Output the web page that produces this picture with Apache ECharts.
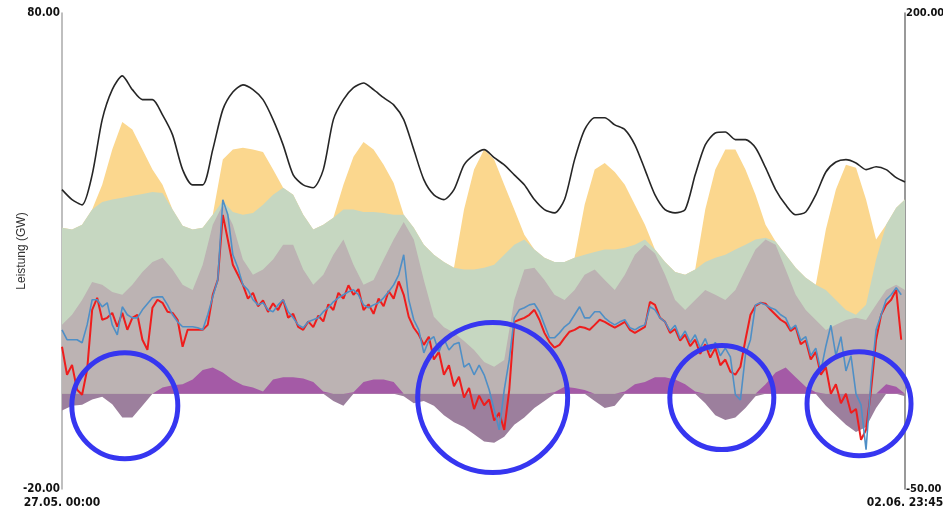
<!DOCTYPE html>
<html>
<head>
<meta charset="utf-8">
<script src="https://cdn.jsdelivr.net/npm/echarts@6/dist/echarts.min.js"></script>
<style>
  html, body { margin: 0; padding: 0; background: #fff; }
  #chart { width: 943px; height: 512px; }
</style>
</head>
<body>
<div id="chart"></div>
<script>
// x = hours since 27.05. 00:00, areas and load sampled every 2 h, prices hourly
const X_MAX = 167.75
const xLabels = ['27.05. 00:00', '02.06. 23:45']

// GW, upper edge of each coloured layer (left axis)
const solarTop = [
  34.9, 34.5, 35.5, 38.7, 43.9, 51.3, 57.1, 55.5, 51.3, 47.1, 43.9, 38.7,
  35.3, 34.5, 34.9, 37.6, 49.2, 51.3, 51.7, 51.3, 50.8, 47.1, 43.3, 41.8,
  37.6, 34.5, 35.5, 37.0, 43.9, 49.8, 52.9, 51.3, 48.1, 44.3, 37.6, 34.9,
  31.3, 29.2, 27.7, 26.5, 38.7, 47.1, 51.3, 49.2, 43.9, 38.7, 33.4, 30.3,
  28.6, 27.7, 27.7, 28.6, 39.7, 47.1, 48.5, 46.6, 43.9, 39.7, 35.5, 30.3,
  27.7, 25.6, 25.0, 26.1, 38.7, 47.1, 51.3, 51.3, 47.1, 41.8, 35.5, 32.0,
  29.2, 26.5, 24.4, 22.9, 34.5, 42.9, 48.1, 47.5, 40.8, 32.4, 35.5, 39.1, 40.8
]
const windTop = [
  34.9, 34.5, 35.5, 38.7, 40.3, 40.8, 41.2, 41.6, 42.0, 42.4, 42.2, 38.7,
  35.3, 34.5, 34.9, 37.6, 40.5, 38.2, 37.6, 38.0, 39.7, 41.8, 43.3, 41.8,
  37.6, 34.5, 35.5, 37.0, 38.7, 38.7, 38.2, 38.2, 38.0, 37.6, 37.6, 34.9,
  31.3, 29.2, 27.7, 26.5, 26.1, 26.1, 26.5, 27.1, 29.2, 31.3, 32.4, 30.3,
  28.6, 27.7, 27.7, 28.6, 29.2, 29.8, 30.3, 30.3, 30.7, 31.3, 32.4, 30.3,
  27.7, 25.6, 25.0, 26.1, 27.7, 28.6, 29.2, 30.3, 31.3, 32.4, 32.8, 32.0,
  29.2, 26.5, 24.4, 22.9, 21.8, 19.7, 17.6, 16.6, 18.7, 28.2, 35.5, 39.1, 40.8
]
const otherTop = [
  14.5, 16.6, 19.7, 23.5, 22.9, 21.4, 20.8, 22.9, 25.6, 27.7, 28.6, 26.1,
  22.9, 21.8, 27.1, 35.5, 39.7, 35.5, 28.2, 25.0, 26.1, 28.2, 31.3, 31.3,
  26.1, 22.9, 25.0, 29.2, 32.4, 27.1, 22.9, 23.9, 28.2, 32.4, 36.1, 32.4,
  23.9, 16.2, 14.0, 12.8, 11.1, 9.2, 6.7, 5.7, 7.1, 19.7, 26.1, 26.5,
  23.9, 20.8, 19.7, 21.8, 25.0, 26.1, 23.9, 21.8, 25.0, 29.2, 31.3, 29.5,
  25.0, 19.7, 17.6, 19.7, 21.8, 20.8, 19.7, 21.8, 26.1, 30.3, 32.4, 31.3,
  26.1, 20.8, 17.6, 15.5, 13.4, 14.5, 15.5, 16.0, 15.5, 18.7, 21.8, 22.9, 21.8
]
// net import (+) / export (-)
const netImport = [
  -3.5, -2.5, -2.3, -1.2, -0.6, -2.2, -5.0, -5.0, -2.5, 0.0, 1.3, 1.8,
  2.0, 3.0, 5.0, 5.5, 4.5, 2.9, 1.8, 1.3, 0.5, 3.0, 3.5, 3.5,
  3.2, 2.5, 0.5, -1.5, -2.5, 0.3, 2.5, 3.0, 3.0, 2.5, -0.5, -2.0,
  -1.5, -2.5, -4.5, -6.0, -7.0, -8.5, -10.0, -10.3, -9.0, -6.5, -5.0, -3.0,
  -1.5, 0.3, 1.5, 1.2, 0.8, -1.5, -3.0, -2.5, 0.5, 2.0, 2.5, 3.5,
  3.5, 3.0, 2.0, 0.5, -2.0, -4.5, -5.5, -5.0, -3.0, -0.5, 2.0, 4.5,
  5.5, 3.5, 1.5, 0.3, -2.5, -4.5, -6.5, -8.0, -7.0, -3.0, 2.0, 1.5, -0.5
]
// total load, GW
const load = [
  42.9, 40.8, 39.7, 46.0, 57.6, 63.9, 66.8, 63.9, 61.8, 61.8, 58.6, 54.4,
  47.1, 43.9, 43.9, 51.3, 59.7, 63.4, 64.9, 63.9, 61.8, 57.6, 52.3, 46.0,
  43.9, 43.3, 47.1, 57.6, 61.8, 64.3, 65.3, 63.9, 62.2, 60.7, 57.6, 51.3,
  45.0, 41.8, 40.8, 42.9, 48.1, 50.2, 51.3, 49.6, 48.1, 46.0, 43.9, 40.8,
  38.7, 38.0, 40.8, 49.2, 55.5, 58.0, 58.0, 56.5, 55.5, 52.3, 47.1, 41.8,
  38.7, 38.0, 38.7, 46.0, 52.3, 54.8, 55.0, 53.4, 53.4, 51.7, 47.5, 42.9,
  39.7, 37.6, 38.2, 41.8, 46.6, 48.7, 49.2, 48.5, 47.1, 47.7, 47.1, 45.4, 44.5
]

// prices, EUR/MWh (right axis), hourly
const priceRed = [
  24.7, 10.0, 15.2, 2.1, -0.5, 12.6, 44.1, 50.4, 38.9, 39.9, 42.5, 35.2,
  42.5, 33.6, 39.9, 41.5, 28.4, 23.1, 45.2, 49.4, 47.8, 43.1, 42.5, 38.9,
  24.7, 33.6, 33.6, 33.6, 33.6, 36.2, 52.0, 59.9, 94.0, 80.9, 67.8, 62.5,
  57.2, 50.0, 53.0, 46.0, 49.0, 43.0, 47.5, 44.0, 49.4, 40.0, 42.0, 35.2,
  33.6, 38.0, 35.0, 41.0, 38.0, 47.0, 44.0, 53.0, 50.0, 57.0, 52.0, 55.0,
  44.0, 47.0, 42.0, 50.0, 46.0, 54.0, 50.0, 59.0, 52.0, 40.4, 34.7, 31.0,
  25.7, 30.0, 18.0, 22.0, 10.0, 15.0, 4.0, 9.0, -2.0, 3.0, -8.0, -1.0,
  -6.0, -3.0, -14.0, -10.0, -19.0, 2.1, 37.8, 38.9, 39.9, 41.5, 44.1, 38.9,
  32.0, 27.3, 24.2, 25.7, 29.4, 32.6, 33.6, 35.2, 34.7, 33.6, 36.2, 38.9,
  37.8, 36.2, 34.7, 36.2, 37.8, 33.6, 32.0, 33.6, 35.2, 48.3, 46.7, 39.9,
  37.8, 32.0, 34.0, 28.0, 31.0, 25.0, 28.4, 21.0, 26.0, 19.0, 24.0, 15.0,
  18.0, 11.6, 10.0, 14.2, 28.4, 41.5, 46.2, 47.8, 47.3, 44.1, 41.5, 38.9,
  37.3, 33.0, 35.0, 26.0, 28.0, 18.0, 22.0, 10.0, 14.0, 0.0, 5.0, -5.0,
  0.0, -10.0, -8.0, -24.2, -18.9, 2.1, 28.4, 41.5, 46.7, 49.4, 54.6, 28.4
]
const priceBlue = [
  33.6, 28.4, 28.4, 28.4, 26.8, 36.2, 49.4, 49.4, 45.7, 47.8, 36.2, 31.0,
  45.7, 41.5, 39.9, 39.9, 44.1, 47.3, 50.4, 50.9, 50.9, 46.7, 41.5, 37.8,
  35.2, 35.2, 35.2, 34.7, 33.6, 41.5, 50.9, 59.9, 101.9, 94.0, 73.0, 66.2,
  57.2, 54.6, 49.4, 46.7, 47.8, 44.1, 43.1, 46.7, 49.4, 43.1, 39.9, 36.2,
  34.7, 37.8, 38.9, 39.9, 43.1, 45.2, 48.3, 50.4, 52.0, 53.6, 54.6, 52.0,
  46.7, 45.2, 46.7, 47.8, 50.4, 53.6, 57.2, 62.5, 73.0, 49.4, 38.9, 33.6,
  21.5, 28.0, 30.0, 22.0, 29.0, 23.0, 26.0, 27.0, 14.0, 16.0, 10.0, 15.0,
  10.0, 2.1, -8.4, -18.9, 2.1, 17.9, 39.9, 44.1, 45.2, 46.7, 47.3, 43.1,
  36.2, 29.4, 29.4, 32.0, 35.2, 37.3, 41.5, 45.7, 39.9, 39.9, 43.1, 43.1,
  39.9, 37.8, 36.2, 37.8, 38.9, 34.7, 33.6, 35.2, 36.2, 45.7, 44.1, 39.9,
  37.8, 33.0, 36.0, 29.0, 33.0, 27.0, 31.0, 24.0, 29.0, 22.0, 27.0, 20.0,
  24.0, 19.4, -0.5, -3.2, 20.5, 28.4, 46.7, 47.8, 46.7, 45.2, 44.1, 41.5,
  39.9, 34.0, 36.0, 28.0, 30.0, 20.0, 24.0, 12.0, 25.0, 36.0, 20.0, 30.0,
  12.0, 20.0, 0.0, -5.8, -29.4, 7.4, 33.6, 41.5, 49.4, 52.0, 55.7, 52.0
]

// highlighted export periods: [hour, GW, radius px]
const circles = [
  [12.5, -2.5, 53],
  [85.7, -0.8, 75],
  [131.3, -0.8, 52],
  [158.6, -2.1, 52]
]

const hours2 = solarTop.map((_, i) => (i === solarTop.length - 1 ? X_MAX : i * 2))
const pairs = (vals, xs) => vals.map((v, i) => [xs[i], v])
const hours1 = priceRed.map((_, i) => i)

const LABEL_FONT = "'Liberation Sans Narrow', 'Arial Narrow', 'DejaVu Sans Condensed', sans-serif"

function area(name, vals, color, z) {
  return {
    name, type: 'line', data: pairs(vals, hours2), yAxisIndex: 0,
    showSymbol: false, z,
    lineStyle: { width: 0 },
    areaStyle: { color, opacity: 1 },
  }
}

const chart = echarts.init(document.getElementById('chart'))
chart.setOption({
  backgroundColor: '#fff',
  animation: false,
  grid: { left: 62, right: 38, top: 13, bottom: 23, outerBoundsMode: 'none' },
  xAxis: {
    type: 'value', min: 0, max: X_MAX, interval: X_MAX,
    axisLine: { show: false },
    axisTick: { show: false },
    splitLine: { show: false },
    axisLabel: {
      margin: 8, color: '#111', fontSize: 12, fontWeight: 'bold', fontFamily: LABEL_FONT,
      showMinLabel: true, showMaxLabel: true,
      formatter: v => (v === 0 ? xLabels[0] : v === X_MAX ? xLabels[1] : ''),
    },
  },
  yAxis: [
    {
      type: 'value', min: -20, max: 80, interval: 20,
      name: 'Leistung (GW)', nameLocation: 'middle', nameGap: 34, nameMoveOverlap: false,
      nameTextStyle: { color: '#333', fontSize: 12, fontFamily: "'Liberation Sans', Arial, sans-serif" },
      axisLine: { show: true, lineStyle: { color: '#aaa', width: 1.5 } },
      axisTick: { show: false },
      splitLine: { show: false },
      axisLabel: {
        margin: 2, color: '#111', fontSize: 11.5, fontWeight: 'bold', fontFamily: LABEL_FONT,
        formatter: v => (v === -20 || v === 80 ? v.toFixed(2) : ''),
      },
    },
    {
      type: 'value', min: -50, max: 200, interval: 50, position: 'right',
      axisLine: { show: true, lineStyle: { color: '#777', width: 1.5 } },
      axisTick: { show: false },
      splitLine: { show: false },
      axisLabel: {
        margin: 1, color: '#111', fontSize: 11, fontWeight: 'bold', fontFamily: LABEL_FONT,
        formatter: v => (v === -50 || v === 200 ? v.toFixed(2) : ''),
      },
    },
  ],
  series: [
    area('Solar', solarTop, '#fbd78e', 1),
    area('Wind', windTop, '#c6d7c1', 2),
    area('Sonstige', otherTop, '#bcb3b3', 3),
    area('Import', netImport.map(v => Math.max(0, v)), '#a45aa6', 4),
    area('Export', netImport.map(v => Math.min(0, v)), '#9c7f9d', 4),
    {
      name: 'Last', type: 'line', data: pairs(load, hours2), yAxisIndex: 0,
      showSymbol: false, smooth: 0.25, z: 5,
      lineStyle: { color: '#262626', width: 1.6 },
    },
    {
      name: 'Day-Ahead', type: 'line', data: pairs(priceRed, hours1), yAxisIndex: 1,
      showSymbol: false, z: 6,
      lineStyle: { color: '#ee1d1d', width: 2 },
    },
    {
      name: 'Intraday', type: 'line', data: pairs(priceBlue, hours1), yAxisIndex: 1,
      showSymbol: false, z: 7,
      lineStyle: { color: '#4f8fc6', width: 1.6 },
    },
  ],
})

chart.setOption({
  graphic: circles.map(([h, v, r]) => {
    const [cx, cy] = chart.convertToPixel({ xAxisIndex: 0, yAxisIndex: 0 }, [h, v])
    return {
      type: 'circle', z: 100,
      shape: { cx, cy, r },
      style: { fill: 'none', stroke: '#3636f0', lineWidth: 5 },
    }
  }),
})
</script>
</body>
</html>
